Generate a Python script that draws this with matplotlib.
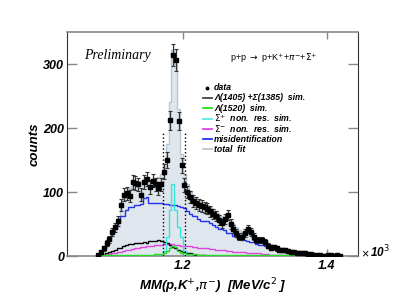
import matplotlib.pyplot as plt
import numpy as np
from matplotlib.lines import Line2D

# MM(p,K+,pi-) histograms, 4 MeV bins starting at 1.080 GeV
bin_start = 1.080
bin_width = 0.004

data = [2, 6, 12, 20, 26, 38, 45, 55, 80, 96,
        98, 94, 116, 114, 112, 96, 116, 120, 108, 118,
        112, 106, 112, 132, 150, 212, 314, 306, 211, 142,
        111, 100, 92, 86, 83, 80, 78, 76, 74, 70,
        66, 62, 56, 51, 58, 64, 50, 42, 36, 30,
        30, 36, 42, 38, 30, 25, 25, 25, 22, 16,
        13, 14, 12, 10, 10, 9, 8, 7, 6, 5,
        5, 4, 4, 3, 3, 2, 1, 1, 0, 0,
        2, 1, 0, 1, 0]

total_fit = [2, 5, 12, 20, 30, 40, 48, 60, 78, 90,
             100, 106, 110, 114, 116, 118, 120, 120, 118, 120,
             122, 124, 128, 140, 175, 240, 322, 300, 230, 160,
             128, 112, 102, 96, 92, 88, 84, 82, 80, 77,
             74, 70, 66, 62, 60, 58, 55, 50, 45, 40,
             38, 36, 35, 33, 31, 29, 27, 25, 23, 21,
             19, 17, 15, 13, 12, 11, 10, 9, 8, 7,
             6, 5, 4, 3, 3, 2, 2, 1, 1, 1,
             1, 0, 0, 0, 0]

misid = [0, 0, 10, 15, 28, 38, 43, 51, 62, 62,
         72, 77, 77, 80, 80, 82, 90, 93, 83, 83,
         83, 83, 83, 82, 81, 80, 80, 79, 78, 76,
         75, 70, 65, 62, 62, 58, 55, 54, 54, 52,
         48, 46, 43, 43, 40, 36, 36, 32, 30, 28,
         25, 25, 23, 22, 22, 18, 17, 17, 16, 13,
         12, 11, 10, 10, 8, 7, 6, 5, 5, 4,
         4, 3, 3, 2, 2, 1, 1, 0, 0, 0,
         0, 0, 0, 0, 0]

lambda1405 = [0, 0, 2, 4, 6, 8, 10, 12, 13, 15,
              17, 18, 19, 20, 20, 21, 22, 21, 23, 24,
              24, 25, 24, 22, 20, 17, 14, 12, 10, 8,
              6, 5, 4, 3, 2, 2, 1, 1, 0, 0,
              0, 0, 0, 0, 0, 0, 0, 0, 0, 0,
              0, 0, 0, 0, 0, 0, 0, 0, 0, 0,
              0, 0, 0, 0, 0, 0, 0, 0, 0, 0,
              0, 0, 0, 0, 0, 0, 0, 0, 0, 0,
              0, 0, 0, 0, 0]

sigma_minus = [0, 1, 1, 2, 3, 4, 5, 6, 7, 8,
               9, 10, 11, 12, 13, 14, 14, 15, 16, 16,
               17, 17, 17, 18, 18, 18, 18, 17, 17, 16,
               16, 15, 15, 14, 14, 13, 13, 12, 12, 11,
               11, 10, 10, 9, 9, 8, 8, 7, 7, 6,
               6, 6, 5, 5, 4, 4, 4, 3, 3, 3,
               2, 2, 2, 1, 1, 1, 0, 0, 0, 0,
               0, 0, 0, 0, 0, 0, 0, 0, 0, 0,
               0, 0, 0, 0, 0]

sigma_plus = [0, 0, 0, 0, 0, 0, 0, 0, 0, 0,
              0, 0, 0, 0, 0, 0, 0, 0, 0, 0,
              0, 0, 0, 8, 30, 72, 112, 72, 45, 30,
              8, 0, 0, 0, 0, 0, 0, 0, 0, 0,
              0, 0, 0, 0, 0, 0, 0, 0, 0, 0,
              0, 0, 0, 0, 0, 0, 0, 0, 0, 0,
              0, 0, 0, 0, 0, 0, 0, 0, 0, 0,
              0, 0, 0, 0, 0, 0, 0, 0, 0, 0,
              0, 0, 0, 0, 0]

lambda1520 = [0, 0, 1, 1, 1, 1, 1, 1, 1, 1,
              1, 1, 1, 1, 1, 2, 2, 2, 2, 2,
              3, 3, 3, 4, 8, 12, 16, 14, 8, 5,
              4, 3, 3, 3, 3, 2, 2, 2, 2, 2,
              2, 2, 2, 2, 2, 2, 2, 2, 2, 2,
              2, 2, 2, 2, 2, 2, 2, 2, 1, 1,
              1, 1, 1, 1, 1, 1, 1, 1, 1, 1,
              1, 1, 1, 1, 1, 1, 0, 0, 0, 0,
              0, 0, 0, 0, 0]

cut_lo, cut_hi, cut_top = 1.172, 1.203, 195

legend_labels = ['data', 'Λ(1405) +Σ(1385)  sim.', 'Λ(1520)  sim.',
                 r'$\Sigma^{+}$  non.  res.  sim.', r'$\Sigma^{-}$  non.  res.  sim.',
                 'misidentification', 'total  fit']
legend_colors = ['black', '#444444', '#22dd22', '#55eedd', '#dd44dd', '#2233ee', '#b8c8d6']

plt.rcParams['font.family'] = ['Liberation Sans', 'DejaVu Sans']

n = len(data)
edges = bin_start + bin_width * np.arange(n + 1)
centers = edges[:-1] + bin_width / 2
data = np.array(data)

fig = plt.figure(figsize=(4.07, 2.97), dpi=100)
ax = fig.add_axes([0.1646, 0.138, 0.715, 0.754])

ax.stairs(total_fit, edges, fill=True, color='#dfe6ed', zorder=1)
ax.stairs(total_fit, edges, color='#b8c8d6', linewidth=1.0, zorder=2)
ax.stairs(misid, edges, color='#2233ee', linewidth=1.0, zorder=3)
ax.stairs(sigma_minus, edges, color='#dd44dd', linewidth=1.0, zorder=3)
ax.stairs(lambda1405, edges, color='black', linewidth=1.0, zorder=3)
ax.stairs(sigma_plus, edges, color='#33e6dd', linewidth=1.0, zorder=3)
ax.stairs(lambda1520, edges, color='#22dd22', linewidth=1.0, zorder=3)
ax.vlines([cut_lo, cut_hi], 0, cut_top, colors='black', linestyles=':', linewidth=1.0, zorder=4)

ax.errorbar(centers, data, yerr=np.sqrt(data), xerr=bin_width / 2, fmt='s', ms=2.4,
            color='black', ecolor='#333333', elinewidth=0.9, capsize=1.3, capthick=0.8, zorder=5)

ax.set_xlim(1.039, 1.443)
ax.set_ylim(0, 350)
ax.set_xticks([1.2, 1.4])
ax.set_xticklabels(['1.2', '1.4'])
ax.set_yticks([0, 100, 200, 300])
for lab in ax.get_xticklabels() + ax.get_yticklabels():
    lab.set_fontweight('bold')
    lab.set_fontstyle('italic')
    lab.set_fontsize(9)
ax.tick_params(direction='in', length=7, width=1, color='#888888', top=True, right=True, pad=2)
ax.tick_params(axis='x', length=5, pad=3)
for side in ['left', 'right']:
    ax.spines[side].set_color('#333333')
for side in ['top', 'bottom']:
    ax.spines[side].set_color('#888888')
    ax.spines[side].set_linewidth(1.2)

ax.set_ylabel('counts', fontsize=9.5, fontweight='bold', fontstyle='italic', labelpad=2)
ax.set_xlabel(r'MM(p,K$^{+}$,$\pi^{-}$)  [MeV/c$^{2}$ ]', fontsize=9.5, fontweight='bold',
              fontstyle='italic', labelpad=3)
ax.text(1.012, -0.02, '×', transform=ax.transAxes, fontsize=9, ha='left', va='bottom')
ax.text(1.042, -0.02, r'10$^{3}$', transform=ax.transAxes, fontsize=8.5, fontweight='bold',
        fontstyle='italic', ha='left', va='bottom')

ax.text(0.06, 0.895, 'Preliminary', transform=ax.transAxes, fontsize=10, fontstyle='italic',
        family='Liberation Serif', va='center')
ax.text(0.56, 0.885, r'p+p $\rightarrow$ p+K$^{+}$+$\pi^{-}$+$\Sigma^{+}$', transform=ax.transAxes,
        fontsize=6.5, va='center')

# legend drawn by hand to follow the reference layout
leg_y = [0.752, 0.706, 0.66, 0.614, 0.568, 0.522, 0.476]
for k, (label, color) in enumerate(zip(legend_labels, legend_colors)):
    if k == 0:
        ax.plot([0.482], [leg_y[k]], 'o', ms=1.8, color=color, transform=ax.transAxes, clip_on=False)
    else:
        ax.add_line(Line2D([0.467, 0.5], [leg_y[k], leg_y[k]], color=color, linewidth=1.3,
                           transform=ax.transAxes))
    ax.text(0.505, leg_y[k], label, transform=ax.transAxes, fontsize=6.3, fontweight='bold',
            fontstyle='italic', va='center')

fig.savefig('out.png', dpi=100)
